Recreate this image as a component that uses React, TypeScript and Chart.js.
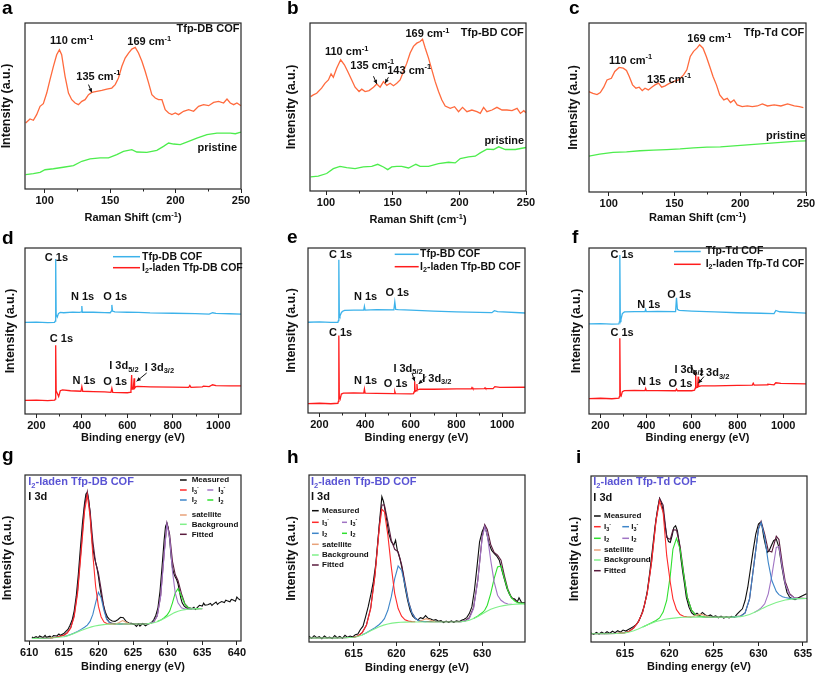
import React, { useEffect, useRef } from "react";
import { Chart, registerables } from "chart.js";
Chart.register(...registerables);

const FONT = "'Liberation Sans', Arial, sans-serif";

// ---------- colours ----------
const ORANGE = "#ff6a3d";
const RGREEN = "#4ded4d";
const SBLUE = "#3cb2ea";
const SRED = "#ff1c1c";
const MEAS = "#0d0d0d";
const RED = "#ff2b2b";
const PURPLE = "#a074c4";
const BLUE = "#3f86c9";
const GREEN = "#2fe02f";
const SAT = "#e8a27a";
const BGC = "#80f08a";
const FIT = "#5a1b3e";
const TITLE = "#5a54d4";

// ---------- tick labels ----------
const ramanTicks = [100, 150, 200, 250];
const ramanMinor = [125, 175, 225];
const surveyTicks = [200, 400, 600, 800, 1000];
const surveyMinor = [300, 500, 700, 900];
const gTicks = [610, 615, 620, 625, 630, 635, 640];
const hTicks = [615, 620, 625, 630];
const iTicks = [615, 620, 625, 630, 635];

// ---------- Raman (a) ----------
const ramanA_laden = [[85.5,39.8],[88.8,42.2],[91.4,41.4],[93.9,44.8],[96.5,49.8],[99,51.4],[101.6,57.8],[104.1,65.9],[106.7,73.9],[109.2,80.9],[111.3,83.9],[113,80.9],[115.6,67.9],[118.2,57.8],[120.7,53.8],[123.3,51.8],[125.8,50.8],[128.4,52.8],[130.9,53.8],[133.5,56.8],[136,58.2],[139.8,58.8],[143.7,59.4],[147.5,60.2],[151.3,60.8],[153.9,62.9],[156.4,66.9],[159,73.9],[161.5,78.9],[164.1,81.9],[166.6,84.3],[169.2,85.3],[171.7,81.9],[174.3,76.9],[176.8,70.9],[179.4,63.9],[181.9,56.8],[184.5,54.8],[187,53.8],[189.6,53.8],[192.1,47.8],[194.7,45.8],[197.2,44.8],[199.8,45.8],[202.3,44.8],[206.1,46.8],[210,47.8],[213.8,46.8],[217.6,49.8],[221.4,50.8],[225.3,50.2],[229.1,52.2],[232.9,52.8],[236.7,51.8],[239.3,54.2],[241.8,51.8],[244.4,50.8],[246.9,51.8],[250,50.2]];
const ramanA_pristine = [[85.5,8.6],[91.4,9.2],[96.5,10],[100.3,11.6],[106.7,12.2],[114.3,13.1],[122,14.1],[128.4,16.7],[134.7,18.1],[142.4,18.7],[148.8,18.7],[155.1,20.7],[160.2,22.7],[166.6,23.7],[170.4,22.3],[178.1,22.1],[185.7,23.3],[190.8,25.7],[194.7,27.7],[198.5,27.1],[203.6,26.7],[210,28.7],[216.3,30.7],[224,32.7],[231.6,33.7],[241.8,33.7],[245.7,33.3],[250,34.3]];

// ---------- Raman (b) ----------
const ramanB_laden = [[88.5,56.2],[90.5,57.2],[93,58.2],[96.7,61.2],[99.2,64.1],[101.8,66.1],[103.8,69.7],[105.5,67.7],[108,73.1],[111,78.1],[113.8,75.1],[116.3,71.1],[119.3,66.1],[121.8,61.8],[124.8,59.2],[126.8,60.6],[129.3,59.2],[132.3,59.8],[135.6,61.8],[138.1,63.7],[140.6,61.8],[143.1,65.1],[145.6,62.9],[148.1,64.1],[150.6,62.7],[153.1,64.1],[155.6,66.1],[158.1,71.1],[160.6,76.1],[163.1,82.1],[165.6,86.1],[168.1,88],[170.6,89],[172.4,90.4],[174.4,85.1],[176.9,79.1],[179.4,72.1],[181.9,65.1],[184.4,59.2],[186.9,54.2],[189.4,50.6],[193.2,49.2],[196.4,50.2],[199.4,47.2],[202.4,49.8],[205.7,47.2],[209.4,48.2],[213.2,47.2],[215.7,46.2],[218.2,49.8],[220.7,47.2],[224.5,48.2],[228.2,49.8],[232,48.2],[235.7,48.2],[239.5,47.8],[243.3,49.2],[245.8,46.2],[248.3,47.8],[250,46.6]];
const ramanB_pristine = [[88.5,8.4],[94.2,8.8],[100.5,10.4],[105.5,13.3],[110.5,14.7],[115.5,13.9],[121.8,13.3],[128,14.3],[134.3,14.7],[138.8,15.9],[143.1,14.3],[146.3,12.7],[149.3,14.3],[153.1,14.7],[156.8,14.7],[161.9,13.7],[167.4,15.9],[170.6,14.7],[176.9,14.7],[184.4,16.3],[191.9,17.1],[196.9,16.7],[200.7,19.3],[206.9,20.3],[211.9,20.7],[215.7,22.7],[220.7,24.9],[225.7,24.7],[229.5,26.3],[234.5,24.7],[242,24.7],[250,25.9]];

// ---------- Raman (c) ----------
const ramanC_laden = [[84.7,59.4],[88,58.4],[91.1,57.6],[93.6,58.8],[96.2,62],[98.7,66.3],[102,67.3],[104.6,71.3],[107.9,73.7],[111,73.3],[113.5,71.9],[115.6,68.3],[118.1,63.4],[120.7,61.4],[123.2,62],[125.5,60],[127.6,61.4],[130.1,60.4],[132.7,62],[135.2,63.4],[137.8,64.4],[140.3,62],[142.9,62.8],[145.4,64],[149.2,65.3],[153.1,66.3],[156.9,69.3],[159.4,72.3],[162,80.2],[164.5,83.2],[167.1,85.1],[169.1,87.1],[171.7,85.1],[174.2,80.2],[176.8,74.3],[179.3,68.3],[181.9,63.4],[184.4,57.4],[187.5,54.5],[190.1,55.4],[192.6,52.9],[195.2,54.5],[197.7,51.5],[201.5,50.5],[205.4,50.9],[209.2,50.5],[213,50.9],[216.8,52.1],[220.7,50.9],[225.8,51.5],[230.9,50.9],[236,52.1],[241.1,50.9],[244.9,50.5],[248,49.9]];
const ramanC_pristine = [[84.7,21.2],[93.1,22.4],[103.3,23.4],[113.5,23.8],[123.7,24.4],[133.9,24.8],[144.1,25.1],[154.3,25.5],[164.5,26.1],[174.7,26.5],[184.9,26.7],[195.2,27.3],[205.4,27.9],[215.6,28.5],[225.8,29.1],[236,29.7],[243.6,30.1],[250,30.3]];

// ---------- XPS survey (d) ----------
const surveyD_cof = [[150,55.2],[200,55.4],[250,55.1],[280,55.2],[283,56],[285,93.4],[287,60],[292,58.5],[297,60.5],[305,61.2],[320,61],[360,61.4],[390,61.2],[398,61.5],[400,65],[402,61.3],[450,61.3],[500,61.1],[525,61],[530,62],[532,65.7],[535,62],[545,61.5],[600,61.3],[650,61.2],[700,60.9],[800,60.7],[900,60.5],[960,60.2],[975,61],[990,60.6],[1050,60.4],[1100,60.2]];
const surveyD_laden = [[150,8.2],[200,8.4],[250,8.1],[281,8.4],[283,9],[285,41.4],[287,14],[292,12.5],[298,10.5],[305,14],[315,14.5],[350,14],[396,13.7],[400,16.5],[404,13.7],[450,13.5],[500,13.3],[528,13],[532,15.5],[536,13],[600,12.8],[612,13],[616,14],[619,23.5],[621,15],[626,15],[630,21.5],[632,15.5],[638,16.5],[645,16.6],[700,16.4],[800,16.2],[870,16],[875,17.2],[880,16],[930,16.4],[935,16.8],[960,16.5],[975,17.6],[990,17.1],[1050,17],[1100,17]];

// ---------- XPS survey (e) ----------
const surveyE_cof = [[150,55],[200,55.2],[250,54.9],[281,55],[283,56],[285,92.9],[287,60],[290,58.8],[295,60.5],[300,61.5],[310,62.2],[350,62.4],[394,62.3],[397,64.6],[400,62.4],[450,62.6],[526,62.5],[530,67.3],[534,62.8],[545,62.6],[600,62.3],[700,61.8],[800,61.3],[900,61],[955,60.8],[966,62],[980,61.5],[1100,60.6]];
const surveyE_laden = [[150,5.7],[200,5.9],[250,5.6],[281,5.9],[283,7],[285,46.9],[287,10],[291,8.5],[296,11.5],[305,12],[350,12.2],[394,12],[397,14.5],[400,12],[450,11.9],[527,11.8],[530,13.1],[533,11.7],[600,11.6],[612,11.8],[615,13],[617,19.2],[619,13],[624,13.5],[627,17.6],[629,14],[640,14.5],[700,14.4],[800,14.6],[865,14.6],[868,15.4],[872,14.6],[922,14.8],[925,15.3],[928,14.8],[960,14.8],[968,16],[990,15.5],[1100,15.6]];

// ---------- XPS survey (f) ----------
const surveyF_cof = [[150,54.3],[200,54.5],[250,54.2],[281,54.3],[283,55.5],[285,95.8],[287,58],[290,57],[296,60.5],[305,61.5],[350,61.7],[395,61.7],[398,63],[401,61.7],[450,61.8],[529,61.7],[533,70],[537,63],[545,62.4],[600,62],[700,61.5],[800,61],[900,60.7],[960,60.5],[968,62.4],[985,61.6],[1100,60.8]];
const surveyF_laden = [[150,9.3],[200,9.5],[250,9.2],[281,9.5],[283,10.5],[285,45.7],[287,12],[291,11],[296,13.5],[305,14.1],[350,14.2],[395,14.1],[398,15.4],[401,14.1],[450,14.1],[529,14],[533,15],[537,14],[600,14],[612,14.3],[615,15.5],[617,24.9],[619,16],[625,16],[628,22.5],[630,16.5],[640,17],[700,17],[800,17.2],[865,17.4],[869,18.5],[873,17.4],[930,17.6],[933,18],[960,17.6],[968,18.8],[990,18.4],[1100,18.1]];

// ---------- I 3d (g) ----------
const gMeasured = [[610.4,2.5],[610.6,1.8],[611,2.6],[611.3,1.9],[611.5,3.0],[612,2.1],[612.3,3.4],[612.5,2.2],[613,2.9],[613.3,2.0],[613.5,3.3],[614,3.0],[614.3,4.2],[614.5,3.4],[615,4.5],[615.3,5.8],[615.6,7.0],[615.9,9.5],[616.2,12.5],[616.5,18],[616.8,27],[617.1,40],[617.4,56],[617.7,71],[618.0,83],[618.2,88.5],[618.4,89.5],[618.6,85],[618.8,77],[619.0,65],[619.2,56],[619.4,51],[619.6,47.5],[619.8,44],[620.0,39],[620.2,33],[620.4,28],[620.7,22],[621.0,17.5],[621.3,14.5],[621.6,13],[622.0,12],[622.4,11.8],[622.8,12.8],[623.2,14.3],[623.6,14],[624.0,11.8],[624.4,10.8],[624.8,10.6],[625.2,10.0],[625.5,8.8],[625.8,10.3],[626.0,9.0],[626.4,10.5],[626.8,9.2],[627.2,10.2],[627.6,10.8],[628.0,12.8],[628.3,15.5],[628.6,20],[628.9,30],[629.2,45],[629.5,61],[629.7,69],[629.9,71],[630.1,68],[630.3,61],[630.5,51],[630.7,44],[630.9,40.5],[631.1,38.5],[631.3,37],[631.5,34.5],[631.7,30],[631.9,26],[632.1,23],[632.4,21],[632.7,20],[633.0,19.5],[633.4,19.2],[633.8,20.3],[634.0,19.0],[634.2,19.8],[634.6,21.5],[635.0,21],[635.2,22.8],[635.4,21.6],[635.8,21.8],[636.2,22.6],[636.4,21.4],[636.6,22.2],[637.0,23.5],[637.2,22.0],[637.4,22.8],[637.8,23.8],[638.2,23.2],[638.4,24.6],[638.6,24.2],[639.0,23.6],[639.2,25.0],[639.4,24.8],[639.8,24.0],[640.0,26.5],[640.2,25.5],[640.5,24.7]];
const gBackground = [[610.4,1.5],[611,1.6],[613,1.8],[614,2.1],[615,2.6],[615.5,3.1],[616,3.8],[616.5,4.6],[617,5.4],[617.5,6.3],[618,7.1],[618.5,7.8],[619,8.5],[619.5,9],[620,9.4],[620.5,9.7],[621,10],[622,10.2],[627,10.3],[627.5,10.6],[628,11],[628.5,11.6],[629,12.5],[629.5,13.6],[630,14.8],[630.5,16],[631,17.1],[631.5,17.9],[632,18.5],[632.5,18.9],[633,19.1],[634,19.4],[635,19.5]];
const gI3a = [[613,1.9],[614,2.3],[615,3.4],[615.5,4.8],[616,7.8],[616.5,14.5],[617,29],[617.5,53],[618,78],[618.4,88],[618.8,75],[619.2,52],[619.6,33],[620,21],[620.4,14.5],[620.8,11.5],[621.2,10.5],[621.6,10.2],[622.5,10.2]];
const gI2a = [[615,2.6],[616,3.9],[616.5,4.8],[617,5.8],[617.5,7],[618,8.3],[618.4,9.6],[618.8,11.8],[619.2,16],[619.6,23],[620,29.3],[620.4,26],[620.8,18.5],[621.2,13],[621.6,11],[622,10.5],[622.5,10.3],[623.5,10.2]];
const gI3b = [[627,10.3],[627.5,10.7],[628,11.5],[628.5,15],[629,27],[629.5,52],[629.9,70.5],[630.3,62],[630.7,42],[631.1,29],[631.5,23],[632,20],[632.5,19.3],[633,19.2],[634,19.4]];
const gI2b = [[628.5,11.7],[629,12.6],[629.5,14],[629.9,15.5],[630.3,18],[630.7,23],[631.1,29],[631.5,31.5],[632,27],[632.5,22],[633,20],[633.5,19.5],[634.5,19.5]];
const gSatellite = [[622.5,10.2],[623,11.2],[623.5,12.3],[624,11.3],[624.5,10.3]];
const gFitted = [[610.4,1.5],[611,1.6],[613,1.9],[614,2.4],[615,3.5],[615.5,5],[616,8],[616.5,15.5],[617,30.5],[617.5,55.5],[618,81],[618.4,90],[618.8,78.5],[619.2,60],[619.6,47],[620,41],[620.4,31],[620.8,20],[621.2,13.5],[621.6,11.3],[622,10.6],[622.5,10.4],[623,10.3],[624,10.2],[626,10.3],[627,10.4],[627.5,10.6],[628,11.5],[628.5,15.2],[629,27.5],[629.5,53],[629.9,71],[630.3,64],[630.7,48],[631.1,40],[631.5,36.5],[632,28.5],[632.5,22.4],[633,20.1],[633.5,19.6],[634,19.4],[635,19.5]];

// ---------- I 3d (h) ----------
const hMeasured = [[609.8,3.5],[610.1,2.2],[610.4,3.8],[610.7,2.6],[611.0,3.2],[611.3,2.0],[611.6,3.6],[611.9,2.4],[612.2,3.0],[612.5,2.1],[612.8,3.9],[613.1,2.5],[613.4,3.4],[613.7,2.2],[614.0,4.0],[614.3,2.8],[614.6,3.6],[614.9,3.0],[615.2,4.4],[615.5,4.8],[615.8,7.5],[616.1,9.5],[616.4,15],[616.7,21],[617.0,28],[617.3,36],[617.6,47],[617.9,64],[618.1,76],[618.3,87],[618.5,84],[618.7,78],[618.9,72],[619.1,65],[619.4,60],[619.7,58],[619.9,61],[620.1,55],[620.4,50],[620.7,43],[621.0,33],[621.3,25],[621.6,19],[621.9,15.5],[622.2,14],[622.5,13.2],[622.8,14.6],[623.1,14.0],[623.4,15.8],[623.7,14.2],[624.0,13.8],[624.3,13.0],[624.6,13.4],[624.9,12.4],[625.2,12.8],[625.5,11.6],[625.8,12.5],[626.1,11.7],[626.4,12.6],[626.7,11.8],[627.0,12.7],[627.3,12.2],[627.6,13.0],[627.9,13.6],[628.2,14.6],[628.5,17],[628.8,21],[629.1,31],[629.4,45],[629.7,60],[630.0,66],[630.3,69.5],[630.5,66],[630.8,59],[631.1,55],[631.4,53],[631.7,51.5],[632.0,49],[632.3,43],[632.6,37.5],[632.9,32],[633.2,28.5],[633.5,26.2],[633.8,25.8],[634.1,24.0],[634.3,26.5],[634.6,23.6],[635.0,23.4]];
const hBackground = [[609.8,2.4],[613,2.4],[614,2.5],[615,2.8],[615.5,3.3],[616,4.2],[616.5,5.4],[617,6.7],[617.5,8],[618,9.2],[618.5,10.1],[619,10.8],[619.5,11.3],[620,11.6],[620.5,11.8],[621,11.9],[622,12],[627.5,12.1],[628,12.4],[628.5,13],[629,14],[629.5,15.3],[630,16.8],[630.5,18.3],[631,19.6],[631.5,20.5],[632,21.3],[632.5,21.8],[633,22.2],[633.5,22.5],[634,22.7],[635,22.8]];
const hI3a = [[615,2.9],[615.5,3.6],[616,5.5],[616.5,10],[617,20],[617.5,40],[618,68],[618.3,79.5],[618.6,78],[619,64],[619.4,45],[619.8,29],[620.2,20],[620.6,15.5],[621,13.3],[621.4,12.5],[621.8,12.2],[622.2,12.1]];
const hI2a = [[616,4.2],[616.5,5.5],[617,7],[617.5,8.5],[618,10.5],[618.3,12],[618.6,14],[619,19],[619.4,27],[619.8,38],[620.2,45.5],[620.6,43],[621,34],[621.4,24],[621.8,17.5],[622.2,14.2],[622.6,12.8],[623,12.3],[623.5,12.1]];
const hI3b = [[627.5,12.1],[628,12.5],[628.5,14],[629,20],[629.5,37],[630,62],[630.3,69],[630.6,64],[631,49],[631.4,36],[631.8,28],[632.2,25],[632.6,23.5],[633,22.8],[633.5,22.6]];
const hI2b = [[629,14.1],[629.5,15.6],[630,17.5],[630.3,19],[630.6,22],[631,29],[631.4,38],[631.8,45],[632.2,45.5],[632.6,38],[633,31],[633.4,26.5],[633.8,24.5],[634.2,23.4],[635,23]];
const hSatellite = [[622.6,12.1],[623,13],[623.5,14],[624,13],[624.5,12.2]];
const hFitted = [[609.8,2.4],[611,2.4],[613,2.4],[614,2.5],[615,2.8],[615.5,3.5],[616,5.6],[616.5,10.2],[617,20.5],[617.5,40.5],[618,70],[618.3,82],[618.6,82],[619,72],[619.4,61],[619.8,55.5],[620.2,54],[620.6,46.5],[621,35.5],[621.4,24.5],[621.8,17.7],[622.2,14.3],[622.6,12.8],[623,12.3],[624,12.1],[627.5,12.1],[628,12.7],[628.5,14.6],[629,20.7],[629.5,37.3],[630,62.8],[630.3,70.3],[630.6,67.4],[631,58.4],[631.4,53.6],[631.8,52],[632.2,49],[632.6,39.6],[633,31.6],[633.4,26.8],[633.8,25.2],[634.2,23.6],[635,23]];

// ---------- I 3d (i) ----------
const iMeasured = [[611.2,5.5],[611.5,4.6],[611.8,5.8],[612.1,4.8],[612.4,6.0],[612.7,5.0],[613.0,6.2],[613.3,5.2],[613.6,6.5],[613.9,5.6],[614.2,6.8],[614.5,5.9],[614.8,7.2],[615.1,6.6],[615.4,7.5],[615.7,8.4],[616.0,9.4],[616.3,10.6],[616.6,13],[616.9,17],[617.2,22],[617.5,30],[617.8,42],[618.1,56],[618.4,70],[618.7,81],[618.9,86.5],[619.1,84],[619.3,79],[619.5,71],[619.7,64],[619.9,60.5],[620.1,60],[620.3,64],[620.5,69],[620.7,70],[620.9,67],[621.1,60],[621.3,50],[621.5,42],[621.7,35],[621.9,27],[622.2,21],[622.5,17.5],[622.8,16.2],[623.1,17.3],[623.4,16.0],[623.7,17.8],[624.0,16.4],[624.3,15.5],[624.6,16.3],[624.9,15.2],[625.2,15.8],[625.5,14.6],[625.8,15.6],[626.1,14.4],[626.4,15.2],[626.7,14.5],[627.0,15.4],[627.3,14.8],[627.6,16.8],[627.9,18.5],[628.2,20],[628.5,25],[628.8,33],[629.1,44],[629.4,55],[629.7,65],[630.0,71],[630.2,72],[630.4,70],[630.6,63],[630.8,58],[631.0,54],[631.2,55],[631.4,57.5],[631.7,61],[632.0,62],[632.3,57],[632.6,46],[632.9,37],[633.2,30],[633.5,27],[633.8,26],[634.1,25.5],[634.4,26.3],[634.7,27.2],[635.0,28],[635.4,29]];
const iBackground = [[611.2,5],[612,5],[613,5],[614,5.1],[615,5.5],[615.5,6],[616,6.8],[616.5,7.8],[617,9],[617.5,10.2],[618,11.3],[618.5,12.3],[619,13],[619.5,13.7],[620,14.1],[620.5,14.4],[621,14.7],[621.5,14.9],[622,15],[627,15],[628,15.3],[628.5,15.8],[629,16.6],[629.5,17.7],[630,19],[630.5,20.4],[631,21.7],[631.5,22.8],[632,23.8],[632.5,24.6],[633,25.3],[633.5,25.7],[634,26],[634.5,26.1],[635.4,26.2]];
const iI3a = [[614,5.1],[615,5.6],[615.5,6.5],[616,8.5],[616.5,12],[617,18],[617.5,29],[618,48],[618.5,73],[618.9,85],[619.3,78],[619.7,52],[620.1,36],[620.4,26],[620.8,19.5],[621.2,16.5],[621.6,15.5],[622,15.2],[622.5,15]];
const iI2a = [[617,9],[617.5,10.3],[618,11.6],[618.5,13],[618.9,14.5],[619.3,18],[619.7,25],[620.1,40],[620.4,56],[620.8,62.5],[621.2,56],[621.6,41],[622,27],[622.5,19],[623,16],[624,15]];
const iI3b = [[627,15],[628,15.5],[628.5,17.5],[629,26],[629.5,47],[630,68],[630.3,72],[630.7,63],[631.1,48],[631.5,37],[632,30.5],[632.3,28.5],[632.7,27.3],[633,26.8],[633.5,26.3],[634,26.1],[635.4,26.2]];
const iI2b = [[629.5,17.7],[630,19.3],[630.3,20.5],[630.7,23],[631.1,29],[631.5,40],[632,57],[632.3,57.5],[632.7,44],[633,35],[633.5,28.5],[634,26.6],[634.5,26.2],[635.4,26.2]];
const iSatellite = [[622.5,15],[623,16],[623.5,16.8],[624,16],[624.5,15.2]];
const iFitted = [[611.2,5],[612,5],[613,5],[614,5.1],[615,5.6],[615.5,6.5],[616,8.5],[616.5,12],[617,18],[617.5,29.1],[618,48.3],[618.5,73.7],[618.9,86.5],[619.3,82.5],[619.7,63],[620.1,61.8],[620.4,67.6],[620.8,67.4],[621.2,57.7],[621.6,41.6],[622,27.2],[622.5,19],[623,16],[624,15],[627,15],[628,15.7],[628.5,17.5],[629,26],[629.5,47],[630,68.3],[630.3,72.7],[630.7,65],[631.1,55],[631.5,54.2],[632,63.7],[632.3,61.7],[632.7,46.4],[633,36.5],[633.5,29.1],[634,26.7],[634.5,26.5],[635.4,26.2]];

// ---------- rich text helpers ----------
function parseRich(s: string) {
  const out: { t: string; m: number }[] = [];
  let buf = "";
  for (let i = 0; i < s.length; i++) {
    const c = s[i];
    if ((c === "^" || c === "_") && s[i + 1] === "{") {
      if (buf) { out.push({ t: buf, m: 0 }); buf = ""; }
      const j = s.indexOf("}", i);
      out.push({ t: s.slice(i + 2, j), m: c === "^" ? 1 : -1 });
      i = j;
    } else buf += c;
  }
  if (buf) out.push({ t: buf, m: 0 });
  return out;
}

function drawRich(ctx: any, s: string, x: number, y: number, size: number, color: string, align: string) {
  const parts = parseRich(s);
  const small = size * 0.68;
  let w = 0;
  const ws = parts.map((p) => {
    ctx.font = `bold ${p.m ? small : size}px ${FONT}`;
    const m = ctx.measureText(p.t).width;
    w += m;
    return m;
  });
  let cx = align === "center" ? x - w / 2 : align === "right" ? x - w : x;
  ctx.fillStyle = color;
  ctx.textBaseline = "middle";
  ctx.textAlign = "left";
  parts.forEach((p, k) => {
    ctx.font = `bold ${p.m ? small : size}px ${FONT}`;
    const dy = p.m === 1 ? -size * 0.32 : p.m === -1 ? size * 0.3 : 0;
    ctx.fillText(p.t, cx, y + dy);
    cx += ws[k];
  });
}

function drawArrow(ctx: any, x1: number, y1: number, x2: number, y2: number) {
  ctx.strokeStyle = "#111";
  ctx.fillStyle = "#111";
  ctx.lineWidth = 1;
  ctx.beginPath();
  ctx.moveTo(x1, y1);
  ctx.lineTo(x2, y2);
  ctx.stroke();
  const a = Math.atan2(y2 - y1, x2 - x1);
  const L = 4.5;
  ctx.beginPath();
  ctx.moveTo(x2, y2);
  ctx.lineTo(x2 - L * Math.cos(a - 0.45), y2 - L * Math.sin(a - 0.45));
  ctx.lineTo(x2 - L * Math.cos(a + 0.45), y2 - L * Math.sin(a + 0.45));
  ctx.closePath();
  ctx.fill();
}

// ---------- panel specs ----------
type PanelSpec = any;

const PANELS: PanelSpec[] = [
  {
    letter: "a", letterAt: [2, 14], cell: [0, 0, 272, 228], plot: [25, 23, 241, 189],
    xMin: 85, xMax: 250, xTicks: ramanTicks, xMinor: ramanMinor, xTitle: "Raman Shift (cm^{-1})", xTitleDy: 29, yTitleDx: 18,
    series: [
      { pts: ramanA_pristine, color: RGREEN, width: 1.3 },
      { pts: ramanA_laden, color: ORANGE, width: 1.3 },
    ],
    notes: [
      { text: "Tfp-DB COF", x: 248.8, y: 96.4, align: "right" },
      { text: "110 cm^{-1}", x: 120.7, y: 89 },
      { text: "169 cm^{-1}", x: 179.9, y: 88.4 },
      { text: "135 cm^{-1}", x: 141, y: 67.5 },
      { text: "pristine", x: 231.9, y: 24.7 },
    ],
    arrows: [[133.5, 62.9, 136, 58.2]],
  },
  {
    letter: "b", letterAt: [287, 14], cell: [272, 0, 272, 228], plot: [310, 23, 526, 191],
    xMin: 88, xMax: 250, xTicks: ramanTicks, xMinor: ramanMinor, xTitle: "Raman Shift (cm^{-1})", xTitleDy: 29, yTitleDx: 18,
    series: [
      { pts: ramanB_pristine, color: RGREEN, width: 1.3 },
      { pts: ramanB_laden, color: ORANGE, width: 1.3 },
    ],
    notes: [
      { text: "Tfp-BD COF", x: 248.3, y: 94, align: "right" },
      { text: "169 cm^{-1}", x: 176.1, y: 93.4 },
      { text: "110 cm^{-1}", x: 115.5, y: 82.7 },
      { text: "135 cm^{-1}", x: 134.7, y: 74.7 },
      { text: "143 cm^{-1}", x: 162.4, y: 71.5 },
      { text: "pristine", x: 233.7, y: 29.9 },
    ],
    arrows: [[135.6, 68.3, 138.1, 63.7], [146.8, 67.7, 144.3, 64.1]],
  },
  {
    letter: "c", letterAt: [569, 14], cell: [544, 0, 271, 228], plot: [589, 23, 806, 192],
    xMin: 85, xMax: 250, xTicks: ramanTicks, xMinor: ramanMinor, xTitle: "Raman Shift (cm^{-1})", xTitleDy: 26, yTitleDx: 15,
    series: [
      { pts: ramanC_pristine, color: RGREEN, width: 1.3 },
      { pts: ramanC_laden, color: ORANGE, width: 1.3 },
    ],
    notes: [
      { text: "Tfp-Td COF", x: 248.7, y: 94, align: "right" },
      { text: "169 cm^{-1}", x: 176.5, y: 90.5 },
      { text: "110 cm^{-1}", x: 116.6, y: 77.8 },
      { text: "135 cm^{-1}", x: 145.9, y: 66.3 },
      { text: "pristine", x: 234.7, y: 33 },
    ],
    arrows: [],
  },
  {
    letter: "d", letterAt: [2, 244], cell: [0, 228, 272, 217], plot: [25, 248, 241, 414],
    xMin: 150, xMax: 1100, xTicks: surveyTicks, xMinor: surveyMinor, xTitle: "Binding energy (eV)", xTitleDy: 24, yTitleDx: 14,
    series: [
      { pts: surveyD_cof, color: SBLUE, width: 1.3 },
      { pts: surveyD_laden, color: SRED, width: 1.3 },
    ],
    notes: [
      { text: "C 1s", x: 288, y: 94 },
      { text: "N 1s", x: 403, y: 70.3 },
      { text: "O 1s", x: 547, y: 70.3 },
      { text: "C 1s", x: 310, y: 45.4 },
      { text: "N 1s", x: 410, y: 20.1 },
      { text: "O 1s", x: 547, y: 19.3 },
      { text: "I 3d_{5/2}", x: 585, y: 28.7 },
      { text: "I 3d_{3/2}", x: 741, y: 27.7 },
    ],
    arrows: [[685, 24.7, 641, 19.7]],
    legend: {
      size: 10.5, lw: 1.5, rows: [
        { dy: 8.7, items: [{ x0: 88, x1: 115, tx: 117, label: "Tfp-DB COF", color: SBLUE }] },
        { dy: 19.7, items: [{ x0: 88, x1: 115, tx: 117, label: "I_{2}-laden Tfp-DB COF", color: SRED }] },
      ],
    },
  },
  {
    letter: "e", letterAt: [287, 243], cell: [272, 228, 272, 217], plot: [308, 248, 525, 413],
    xMin: 150, xMax: 1100, xTicks: surveyTicks, xMinor: surveyMinor, xTitle: "Binding energy (eV)", xTitleDy: 25, yTitleDx: 16,
    series: [
      { pts: surveyE_cof, color: SBLUE, width: 1.3 },
      { pts: surveyE_laden, color: SRED, width: 1.3 },
    ],
    notes: [
      { text: "C 1s", x: 292.6, y: 96 },
      { text: "N 1s", x: 402, y: 70.1 },
      { text: "O 1s", x: 541, y: 72.7 },
      { text: "C 1s", x: 292.6, y: 48.5 },
      { text: "N 1s", x: 402, y: 19.2 },
      { text: "O 1s", x: 534, y: 17.6 },
      { text: "I 3d_{5/2}", x: 588, y: 26.9 },
      { text: "I 3d_{3/2}", x: 714, y: 20.8 },
    ],
    arrows: [[605.4, 24.2, 617, 19.2], [666.5, 22.2, 634.5, 17.6]],
    legend: {
      size: 10.5, lw: 1.5, rows: [
        { dy: 6.3, items: [{ x0: 86.7, x1: 110.7, tx: 112, label: "Tfp-BD COF", color: SBLUE }] },
        { dy: 18.7, items: [{ x0: 86.7, x1: 110.7, tx: 112, label: "I_{2}-laden Tfp-BD COF", color: SRED }] },
      ],
    },
  },
  {
    letter: "f", letterAt: [572, 243], cell: [544, 228, 271, 217], plot: [589, 248, 806, 414],
    xMin: 150, xMax: 1100, xTicks: surveyTicks, xMinor: surveyMinor, xTitle: "Binding energy (eV)", xTitleDy: 24, yTitleDx: 12,
    series: [
      { pts: surveyF_cof, color: SBLUE, width: 1.3 },
      { pts: surveyF_laden, color: SRED, width: 1.3 },
    ],
    notes: [
      { text: "C 1s", x: 295, y: 96 },
      { text: "N 1s", x: 412, y: 65.8 },
      { text: "O 1s", x: 545, y: 71.8 },
      { text: "C 1s", x: 295, y: 48.7 },
      { text: "N 1s", x: 415, y: 19.1 },
      { text: "O 1s", x: 550, y: 17.9 },
      { text: "I 3d_{5/2}", x: 588, y: 26.6 },
      { text: "I 3d_{3/2}", x: 700, y: 24.5 },
    ],
    arrows: [[595, 29.6, 617, 23.1], [653, 22.5, 628.6, 18.5]],
    legend: {
      size: 10.5, lw: 1.5, rows: [
        { dy: 3.5, items: [{ x0: 85, x1: 111.7, tx: 116.7, label: "Tfp-Td COF", color: SBLUE }] },
        { dy: 16.3, items: [{ x0: 85, x1: 111.7, tx: 116.7, label: "I_{2}-laden Tfp-Td COF", color: SRED }] },
      ],
    },
  },
  {
    letter: "g", letterAt: [2, 461], cell: [0, 445, 272, 232], plot: [25, 475, 241, 641],
    xMin: 609.4, xMax: 640.6, xTicks: gTicks, xMinor: [], xTitle: "Binding energy (eV)", xTitleDy: 26, yTitleDx: 17.5,
    series: [
      { pts: gBackground, color: BGC, width: 1.1 },
      { pts: gSatellite, color: SAT, width: 1.1 },
      { pts: gI3a, color: RED, width: 1.1 },
      { pts: gI2a, color: BLUE, width: 1.1 },
      { pts: gI3b, color: PURPLE, width: 1.1 },
      { pts: gI2b, color: GREEN, width: 1.1 },
      { pts: gFitted, color: FIT, width: 1.1 },
      { pts: gMeasured, color: MEAS, width: 1.1 },
    ],
    notes: [], arrows: [],
    headers: [
      { text: "I_{2}-laden Tfp-DB COF", dx: 3.3, dy: 7.3, color: TITLE },
      { text: "I 3d", dx: 3.3, dy: 21.7, color: "#111" },
    ],
    legend: {
      size: 8, lw: 1.5, rows: [
        { dy: 5, items: [{ x0: 155, x1: 161.7, tx: 166.7, label: "Measured", color: MEAS }] },
        { dy: 15, items: [{ x0: 155, x1: 161.7, tx: 166.7, label: "I_{3}^{-}", color: RED }, { x0: 182.3, x1: 188.3, tx: 193.3, label: "I_{3}^{-}", color: PURPLE }] },
        { dy: 25, items: [{ x0: 155, x1: 161.7, tx: 166.7, label: "I_{2}", color: BLUE }, { x0: 182.3, x1: 188.3, tx: 193.3, label: "I_{2}", color: GREEN }] },
        { dy: 40, items: [{ x0: 155, x1: 161.7, tx: 166.7, label: "satellite", color: SAT }] },
        { dy: 49.3, items: [{ x0: 155, x1: 161.7, tx: 166.7, label: "Background", color: BGC }] },
        { dy: 59.3, items: [{ x0: 155, x1: 161.7, tx: 166.7, label: "Fitted", color: FIT }] },
      ],
    },
  },
  {
    letter: "h", letterAt: [287, 463], cell: [272, 445, 272, 232], plot: [309, 475, 525, 642],
    xMin: 609.8, xMax: 635, xTicks: hTicks, xMinor: [], xTitle: "Binding energy (eV)", xTitleDy: 26, yTitleDx: 17,
    series: [
      { pts: hBackground, color: BGC, width: 1.1 },
      { pts: hSatellite, color: SAT, width: 1.1 },
      { pts: hI3a, color: RED, width: 1.1 },
      { pts: hI2a, color: BLUE, width: 1.1 },
      { pts: hI3b, color: PURPLE, width: 1.1 },
      { pts: hI2b, color: GREEN, width: 1.1 },
      { pts: hFitted, color: FIT, width: 1.1 },
      { pts: hMeasured, color: MEAS, width: 1.1 },
    ],
    notes: [], arrows: [],
    headers: [
      { text: "I_{2}-laden Tfp-BD COF", dx: 2, dy: 7.3, color: TITLE },
      { text: "I 3d", dx: 2, dy: 21.7, color: "#111" },
    ],
    legend: {
      size: 8, lw: 1.5, rows: [
        { dy: 35.7, items: [{ x0: 3, x1: 9.7, tx: 13, label: "Measured", color: MEAS }] },
        { dy: 47.3, items: [{ x0: 3, x1: 9.7, tx: 13, label: "I_{3}^{-}", color: RED }, { x0: 33, x1: 38, tx: 41.3, label: "I_{3}^{-}", color: PURPLE }] },
        { dy: 58.3, items: [{ x0: 3, x1: 9.7, tx: 13, label: "I_{2}", color: BLUE }, { x0: 33, x1: 38, tx: 41.3, label: "I_{2}", color: GREEN }] },
        { dy: 69.3, items: [{ x0: 3, x1: 9.7, tx: 13, label: "satellite", color: SAT }] },
        { dy: 80, items: [{ x0: 3, x1: 9.7, tx: 13, label: "Background", color: BGC }] },
        { dy: 90, items: [{ x0: 3, x1: 9.7, tx: 13, label: "Fitted", color: FIT }] },
      ],
    },
  },
  {
    letter: "i", letterAt: [576, 463], cell: [544, 445, 271, 232], plot: [591, 476, 807, 642],
    xMin: 611.2, xMax: 635.45, xTicks: iTicks, xMinor: [], xTitle: "Binding energy (eV)", xTitleDy: 25, yTitleDx: 16.5,
    series: [
      { pts: iBackground, color: BGC, width: 1.1 },
      { pts: iSatellite, color: SAT, width: 1.1 },
      { pts: iI3a, color: RED, width: 1.1 },
      { pts: iI2a, color: GREEN, width: 1.1 },
      { pts: iI3b, color: BLUE, width: 1.1 },
      { pts: iI2b, color: PURPLE, width: 1.1 },
      { pts: iFitted, color: FIT, width: 1.1 },
      { pts: iMeasured, color: MEAS, width: 1.1 },
    ],
    notes: [], arrows: [],
    headers: [
      { text: "I_{2}-laden Tfp-Td COF", dx: 2.3, dy: 6.3, color: TITLE },
      { text: "I 3d", dx: 2.3, dy: 22.3, color: "#111" },
    ],
    legend: {
      size: 8, lw: 1.5, rows: [
        { dy: 40, items: [{ x0: 3, x1: 9.7, tx: 13, label: "Measured", color: MEAS }] },
        { dy: 50.7, items: [{ x0: 3, x1: 9.7, tx: 13, label: "I_{3}^{-}", color: RED }, { x0: 31.3, x1: 38, tx: 40.3, label: "I_{3}^{-}", color: BLUE }] },
        { dy: 62.3, items: [{ x0: 3, x1: 9.7, tx: 13, label: "I_{2}", color: GREEN }, { x0: 31.3, x1: 38, tx: 40.3, label: "I_{2}", color: PURPLE }] },
        { dy: 74, items: [{ x0: 3, x1: 9.7, tx: 13, label: "satellite", color: SAT }] },
        { dy: 84, items: [{ x0: 3, x1: 9.7, tx: 13, label: "Background", color: BGC }] },
        { dy: 94.7, items: [{ x0: 3, x1: 9.7, tx: 13, label: "Fitted", color: FIT }] },
      ],
    },
  },
];

function overlayPlugin(s: PanelSpec) {
  return {
    id: "overlay_" + s.letter,
    afterDraw(chart: any) {
      const ctx = chart.ctx;
      const ca = chart.chartArea;
      const xs = chart.scales.x;
      const ys = chart.scales.y;
      const [cx, cy] = s.cell;
      ctx.save();
      // frame
      ctx.strokeStyle = "#262626";
      ctx.lineWidth = 1.2;
      ctx.strokeRect(ca.left, ca.top, ca.right - ca.left, ca.bottom - ca.top);
      // minor ticks
      ctx.lineWidth = 1;
      ctx.beginPath();
      for (const v of s.xMinor) {
        const px = Math.round(xs.getPixelForValue(v)) + 0.5;
        ctx.moveTo(px, ca.bottom);
        ctx.lineTo(px, ca.bottom + 2.5);
      }
      ctx.stroke();
      // notes in data coordinates
      for (const n of s.notes) {
        drawRich(ctx, n.text, xs.getPixelForValue(n.x), ys.getPixelForValue(n.y), 11, "#111", n.align ?? "center");
      }
      for (const a of s.arrows) {
        drawArrow(ctx, xs.getPixelForValue(a[0]), ys.getPixelForValue(a[1]), xs.getPixelForValue(a[2]), ys.getPixelForValue(a[3]));
      }
      // legend
      if (s.legend) {
        for (const row of s.legend.rows) {
          for (const it of row.items) {
            const yy = ca.top + row.dy;
            ctx.strokeStyle = it.color;
            ctx.lineWidth = s.legend.lw;
            ctx.beginPath();
            ctx.moveTo(ca.left + it.x0, yy);
            ctx.lineTo(ca.left + it.x1, yy);
            ctx.stroke();
            drawRich(ctx, it.label, ca.left + it.tx, yy, s.legend.size, "#111", "left");
          }
        }
      }
      // headers
      if (s.headers) {
        for (const h of s.headers) drawRich(ctx, h.text, ca.left + h.dx, ca.top + h.dy, 11, h.color, "left");
      }
      // axis titles
      drawRich(ctx, s.xTitle, (ca.left + ca.right) / 2, ca.bottom + s.xTitleDy, 11, "#111", "center");
      ctx.save();
      ctx.translate(ca.left - s.yTitleDx, (ca.top + ca.bottom) / 2);
      ctx.rotate(-Math.PI / 2);
      drawRich(ctx, "Intensity (a.u.)", 0, 0, 12.5, "#111", "center");
      ctx.restore();
      // panel letter
      ctx.font = `bold 19px ${FONT}`;
      ctx.fillStyle = "#000";
      ctx.textBaseline = "alphabetic";
      ctx.textAlign = "left";
      ctx.fillText(s.letter, s.letterAt[0] - cx, s.letterAt[1] - cy);
      ctx.restore();
    },
  };
}

function buildConfig(s: PanelSpec): any {
  const [cx, cy, cw, ch] = s.cell;
  const [L, T, R, B] = s.plot;
  return {
    type: "line",
    data: {
      datasets: s.series.map((se: any) => ({
        data: se.pts.map((p: number[]) => ({ x: p[0], y: p[1] })),
        borderColor: se.color,
        borderWidth: se.width,
        pointRadius: 0,
        fill: false,
        tension: 0,
      })),
    },
    options: {
      animation: false,
      responsive: false,
      devicePixelRatio: 1,
      events: [],
      layout: { padding: { left: 0, top: T - cy, right: cx + cw - R, bottom: 0 } },
      plugins: { legend: { display: false }, tooltip: { enabled: false } },
      scales: {
        x: {
          type: "linear",
          min: s.xMin,
          max: s.xMax,
          afterBuildTicks: (sc: any) => { sc.ticks = s.xTicks.map((v: number) => ({ value: v })); },
          afterFit: (sc: any) => { sc.height = cy + ch - B; sc.paddingLeft = 0; sc.paddingRight = 0; },
          grid: { drawOnChartArea: false, drawTicks: true, tickLength: 4, color: "#222", lineWidth: 1 },
          border: { display: false },
          ticks: {
            color: "#111",
            font: { family: FONT, size: 11, weight: "bold" },
            padding: 1,
            maxRotation: 0,
            autoSkip: false,
            callback: (v: any) => String(v),
          },
        },
        y: {
          type: "linear",
          min: 0,
          max: 100,
          afterFit: (sc: any) => { sc.width = L - cx; },
          grid: { display: false },
          ticks: { display: false },
          border: { display: false },
        },
      },
    },
    plugins: [overlayPlugin(s)],
  };
}

function Panel({ spec }: { spec: PanelSpec }) {
  const ref = useRef<HTMLCanvasElement>(null);
  useEffect(() => {
    const chart = new Chart(ref.current as HTMLCanvasElement, buildConfig(spec));
    return () => chart.destroy();
  }, [spec]);
  const [x, y, w, h] = spec.cell;
  return (
    <canvas
      ref={ref}
      width={w}
      height={h}
      style={{ position: "absolute", left: x, top: y, width: w, height: h, display: "block" }}
    />
  );
}

export default function App() {
  return (
    <div style={{ position: "absolute", left: 0, top: 0, width: 815, height: 677, overflow: "hidden", background: "#fff" }}>
      {PANELS.map((p) => (
        <Panel key={p.letter} spec={p} />
      ))}
    </div>
  );
}
